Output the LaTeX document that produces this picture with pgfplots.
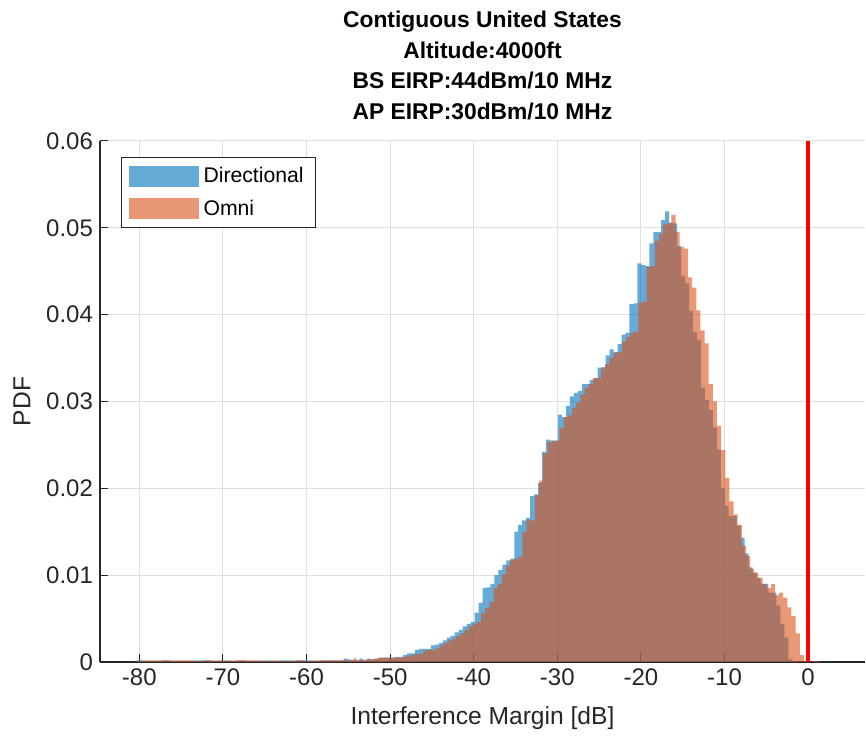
\documentclass[border=0pt]{standalone}
\usepackage{pgfplots}
\pgfplotsset{compat=1.18}
\usepackage{pgfplotstable}
\usepackage{fontspec}
\setmainfont{Liberation Sans}
\definecolor{mblue}{RGB}{0,114,189}
\definecolor{morange}{RGB}{217,83,25}
\definecolor{axgray}{RGB}{38,38,38}
\definecolor{gridgray}{RGB}{223,223,223}

\pgfplotstableread{
x y
-80.3 0.0002
-79.3 0.0001
-78.3 0.0001
-77.3 0.0002
-76.3 0.0001
-75.3 0.0001
-74.3 0.0001
-73.3 0.0002
-72.3 0.0002
-71.3 0.0001
-70.3 0.0002
-69.3 0.0001
-68.3 0.0002
-67.3 0.0001
-66.3 0.0001
-65.3 0.0002
-64.3 0.0001
-63.3 0.0002
-62.3 0.0002
-61.3 0.0002
-60.3 0.0002
-59.3 0.0001
-58.3 0.0002
-57.475 0.0002
-57.0 0.0002
-56.525 0.0002
-56.05 0.0002
-55.575 0.0004
-55.1 0.0003
-54.625 0.0002
-54.15 0.0002
-53.675 0.0004
-53.2 0.0002
-52.725 0.0004
-52.25 0.0003
-51.775 0.0004
-51.3 0.0005
-50.825 0.0005
-50.35 0.0005
-49.875 0.0005
-49.4 0.0006
-48.925 0.0006
-48.45 0.0008
-47.975 0.0010
-47.5 0.0010
-47.025 0.0014
-46.55 0.0015
-46.075 0.0015
-45.6 0.0015
-45.125 0.0019
-44.65 0.0020
-44.175 0.0022
-43.7 0.0025
-43.225 0.0028
-42.75 0.0030
-42.275 0.0034
-41.8 0.0037
-41.325 0.0041
-40.85 0.0044
-40.375 0.0046
-39.9 0.0057
-39.425 0.0068
-38.95 0.0085
-38.475 0.0086
-38.0 0.0090
-37.525 0.0100
-37.05 0.0106
-36.575 0.0112
-36.1 0.0117
-35.625 0.0119
-35.15 0.0150
-34.675 0.0158
-34.2 0.0163
-33.725 0.0166
-33.25 0.0191
-32.775 0.0193
-32.3 0.0206
-31.825 0.0242
-31.35 0.0256
-30.875 0.0255
-30.4 0.0255
-29.925 0.0285
-29.45 0.0282
-28.975 0.0295
-28.5 0.0306
-28.025 0.0310
-27.55 0.0312
-27.075 0.0320
-26.6 0.0320
-26.125 0.0325
-25.65 0.0327
-25.175 0.0339
-24.7 0.0340
-24.225 0.0353
-23.75 0.0360
-23.275 0.0357
-22.8 0.0366
-22.325 0.0377
-21.85 0.0379
-21.375 0.0412
-20.9 0.0413
-20.425 0.0459
-19.95 0.0457
-19.475 0.0456
-19.0 0.0482
-18.525 0.0495
-18.05 0.0495
-17.575 0.0509
-17.1 0.0519
-16.625 0.0506
-16.15 0.0505
-15.675 0.0479
-15.2 0.0445
-14.725 0.0436
-14.25 0.0404
-13.775 0.0380
-13.3 0.0371
-12.825 0.0316
-12.35 0.0302
-11.875 0.0290
-11.4 0.0270
-10.925 0.0245
-10.45 0.0200
-9.975 0.0180
-9.5 0.0168
-9.025 0.0168
-8.55 0.0157
-8.075 0.0143
-7.6 0.0125
-7.125 0.0109
-6.65 0.0103
-6.175 0.0097
-5.7 0.0090
-5.225 0.0090
-4.75 0.0080
-4.275 0.0080
-3.8 0.0065
-3.325 0.0044
-2.85 0.0028
-2.375 0.0003
-1.9 0.0001
-1.425 0
}\directional

\pgfplotstableread{
x y
-80.3 0.0001
-79.3 0.0002
-78.3 0.0002
-77.3 0.0002
-76.3 0.0002
-75.3 0.0002
-74.3 0.0002
-73.3 0.0001
-72.3 0.0002
-71.3 0.0002
-70.3 0.0001
-69.3 0.0002
-68.3 0.0002
-67.3 0.0002
-66.3 0.0002
-65.3 0.0001
-64.3 0.0002
-63.3 0.0001
-62.3 0.0001
-61.3 0.0002
-60.3 0.0001
-59.3 0.0002
-58.3 0.0002
-57.435 0.0002
-56.94 0.0002
-56.445 0.0002
-55.95 0.0002
-55.455 0.0002
-54.96 0.0002
-54.465 0.0004
-53.97 0.0002
-53.475 0.0002
-52.98 0.0003
-52.485 0.0003
-51.99 0.0004
-51.495 0.0005
-51.0 0.0005
-50.505 0.0005
-50.01 0.0005
-49.515 0.0005
-49.02 0.0005
-48.525 0.0006
-48.03 0.0007
-47.535 0.0008
-47.04 0.0009
-46.545 0.0009
-46.05 0.0013
-45.555 0.0014
-45.06 0.0014
-44.565 0.0016
-44.07 0.0019
-43.575 0.0022
-43.08 0.0025
-42.585 0.0027
-42.09 0.0030
-41.595 0.0033
-41.1 0.0037
-40.605 0.0041
-40.11 0.0044
-39.615 0.0046
-39.12 0.0056
-38.625 0.0062
-38.13 0.0069
-37.635 0.0085
-37.14 0.0090
-36.645 0.0101
-36.15 0.0111
-35.655 0.0117
-35.16 0.0119
-34.665 0.0121
-34.17 0.0150
-33.675 0.0163
-33.18 0.0163
-32.685 0.0192
-32.19 0.0209
-31.695 0.0240
-31.2 0.0253
-30.705 0.0255
-30.21 0.0255
-29.715 0.0270
-29.22 0.0282
-28.725 0.0284
-28.23 0.0293
-27.735 0.0299
-27.24 0.0308
-26.745 0.0316
-26.25 0.0320
-25.755 0.0327
-25.26 0.0327
-24.765 0.0338
-24.27 0.0343
-23.775 0.0350
-23.28 0.0356
-22.785 0.0357
-22.29 0.0369
-21.795 0.0374
-21.3 0.0379
-20.805 0.0380
-20.31 0.0414
-19.815 0.0415
-19.32 0.0455
-18.825 0.0456
-18.33 0.0485
-17.835 0.0493
-17.34 0.0504
-16.845 0.0505
-16.35 0.0515
-15.855 0.0495
-15.36 0.0478
-14.865 0.0476
-14.37 0.0443
-13.875 0.0431
-13.38 0.0405
-12.885 0.0382
-12.39 0.0367
-11.895 0.0320
-11.4 0.0300
-10.905 0.0272
-10.41 0.0244
-9.915 0.0212
-9.42 0.0185
-8.925 0.0170
-8.43 0.0158
-7.935 0.0134
-7.44 0.0122
-6.945 0.0107
-6.45 0.0103
-5.955 0.0097
-5.46 0.0090
-4.965 0.0085
-4.47 0.0090
-3.975 0.0077
-3.48 0.0080
-2.985 0.0074
-2.49 0.0063
-1.995 0.0053
-1.5 0.0033
-1.005 0.0008
-0.51 0.0001
-0.015 0
0.48 0.0001
0.975 0.0001
1.47 0
}\omni

\begin{document}
\begin{tikzpicture}
\useasboundingbox (0,0) rectangle (433pt,368.5pt);
\begin{axis}[
  at={(50pt,37.5pt)}, anchor=south west,
  scale only axis, width=382.5pt, height=260.5pt,
  xmin=-84.7, xmax=6.8, ymin=0, ymax=0.06,
  axis x line*=bottom, axis y line*=left,
  axis line style={axgray, line width=0.6pt, -},
  xtick={-80,-70,-60,-50,-40,-30,-20,-10,0},
  xticklabels={-80,-70,-60,-50,-40,-30,-20,-10,0},
  ytick={0,0.01,0.02,0.03,0.04,0.05,0.06},
  yticklabels={0,0.01,0.02,0.03,0.04,0.05,0.06},
  scaled y ticks=false,
  tick align=inside, major tick length=4pt,
  tick style={axgray, line width=0.5pt},
  grid=major, major grid style={gridgray, line width=0.5pt},
  ticklabel style={font=\fontsize{12}{14}\selectfont, text=axgray},
  xlabel={Interference Margin [dB]}, ylabel={PDF},
  label style={font=\fontsize{12.3}{14}\selectfont, text=axgray},
  xlabel style={at={(axis description cs:0.5,-0.1075)}, anchor=center},
  ylabel style={at={(axis description cs:-0.102,0.5)}, anchor=center},
  title={Contiguous United States\\Altitude:4000ft\\BS EIRP:44dBm/10 MHz\\AP EIRP:30dBm/10 MHz},
  title style={font=\bfseries\fontsize{11.4}{15.3}\selectfont, align=center,
    at={(axis description cs:0.5,1)}, anchor=south, yshift=1pt},
  legend style={at={(rel axis cs:0.0275,0.969)}, anchor=north west,
    draw=axgray, line width=0.5pt, fill=white,
    font=\fontsize{10.6}{12}\selectfont, text=black,
    inner xsep=3.5pt, inner ysep=2pt, row sep=1.5pt,
    nodes={inner xsep=2.5pt, inner ysep=2.8pt}},
  legend cell align=left,
]
\addplot[const plot, fill=mblue, fill opacity=0.6, draw=none,
  legend image code/.code={\fill[mblue, fill opacity=0.6] (0pt,-5.25pt) rectangle (35pt,5.25pt);}]
  table[x=x, y=y] {\directional} \closedcycle;
\addlegendentry{Directional}
\addplot[const plot, fill=morange, fill opacity=0.6, draw=none,
  legend image code/.code={\fill[morange, fill opacity=0.6] (0pt,-5.25pt) rectangle (35pt,5.25pt);}]
  table[x=x, y=y] {\omni} \closedcycle;
\addlegendentry{Omni}
\addplot[red, line width=2.2pt, forget plot] coordinates {(0,0) (0,0.06)};
\end{axis}
\end{tikzpicture}
\end{document}
